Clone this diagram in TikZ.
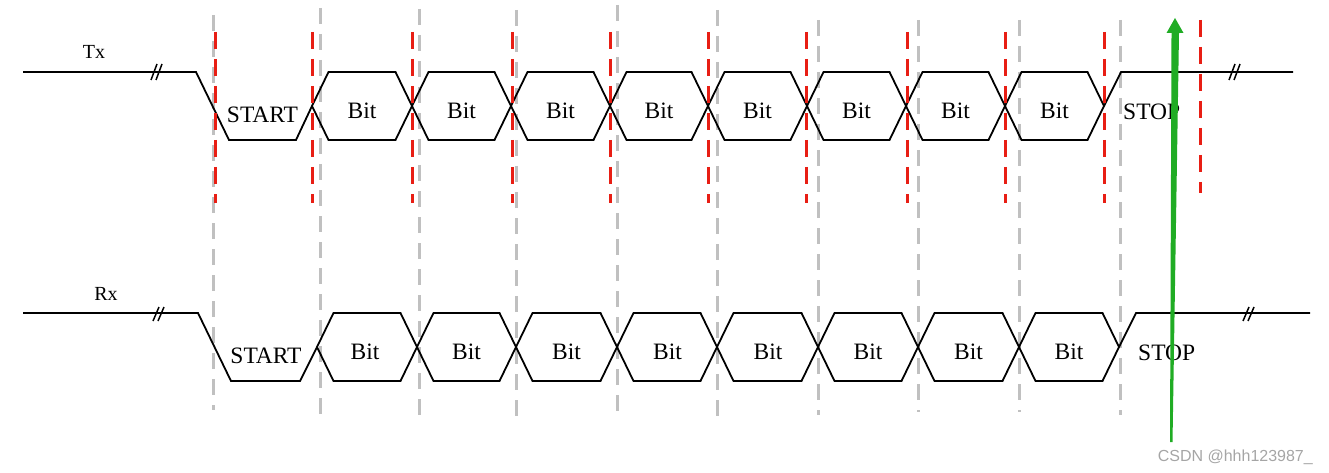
\documentclass[tikz,border=0pt]{standalone}
\usepackage{fontspec}
\setmainfont{Liberation Serif}
\newfontfamily\wmfont{Liberation Sans}
\definecolor{sigred}{RGB}{232,30,20}
\definecolor{guidegray}{RGB}{192,192,192}
\definecolor{arrowgreen}{RGB}{32,172,36}
\definecolor{wmgray}{RGB}{165,165,165}
\begin{document}
\begin{tikzpicture}[x=1pt,y=-1pt,
  wave/.style={line width=1.8pt, black, line join=miter},
  brk/.style={line width=1.5pt, black},
  redguide/.style={sigred, line width=3pt, dash pattern=on 17pt off 10pt},
  grayguide/.style={guidegray, line width=3pt, dash pattern=on 16pt off 10pt},
  bitlabel/.style={font=\fontsize{23.5}{27}\selectfont, inner sep=0pt},
  siglabel/.style={font=\fontsize{20}{23}\selectfont, inner sep=0pt},
]
\useasboundingbox (0,0) rectangle (1329,473);

% gray guides
\foreach \x/\a/\b in {213/15/410, 320/8/420, 419/9/420, 516/10/420, 617/5/413, 717/10/418, 818/20/415, 918/20/412, 1019/20/412, 1120/20/415}
  \draw[grayguide] (\x,\a) -- (\x,\b);

% Tx waveform
\draw[wave] (23,72) -- (196,72) -- (229,140) -- (296,140) -- (312,106);
\foreach \a/\b in {312/412, 412/511, 511/610, 610/708, 708/807, 807/906, 906/1005, 1005/1104}
  \draw[wave] (\a,106) -- (\a+16.5,72) -- (\b-16.5,72) -- (\b,106) -- (\b-16.5,140) -- (\a+16.5,140) -- cycle;
\draw[wave] (1104,106) -- (1121,72) -- (1293,72);
\draw[brk] (151,80) -- (157,64) (156,80) -- (162,64);
\draw[brk] (1229,80) -- (1235,64) (1234,80) -- (1240,64);

% Rx waveform
\draw[wave] (23,313) -- (198,313) -- (231,381) -- (300,381) -- (317,347);
\foreach \a/\b in {317/417, 417/516, 516/617, 617/717, 717/818, 818/918, 918/1019, 1019/1119}
  \draw[wave] (\a,347) -- (\a+16.5,313) -- (\b-16.5,313) -- (\b,347) -- (\b-16.5,381) -- (\a+16.5,381) -- cycle;
\draw[wave] (1119,347) -- (1136,313) -- (1310,313);
\draw[brk] (153,321) -- (159,307) (158,321) -- (164,307);
\draw[brk] (1243,321) -- (1249,307) (1248,321) -- (1254,307);

% red guides
\foreach \x in {215,312,412,512,610,708,806,907,1005,1104}
  \draw[redguide] (\x,32) -- (\x,203);
\draw[redguide] (1200,20) -- (1200,193);

% labels
\node[siglabel] (tx) at (94,52) {Tx};
\node[siglabel] (rx) at (106,294) {Rx};
\node[bitlabel] (txstart) at (262.5,115) {START};
\foreach \c [count=\i] in {362,461.5,560.5,659,757.5,856.5,955.5,1054.5}
  \node[bitlabel] (txbit\i) at (\c,111) {Bit};
\node[bitlabel, anchor=west] (txstop) at (1123,112) {STOP};
\node[bitlabel] (rxstart) at (266,356) {START};
\foreach \c [count=\i] in {365,466.5,566.5,667.5,768,868,968.5,1069}
  \node[bitlabel] (rxbit\i) at (\c,352) {Bit};
\node[bitlabel, anchor=west] (rxstop) at (1138,353) {STOP};

% green arrow
\fill[arrowgreen] (1170,442) -- (1171.5,33) -- (1166.5,33) -- (1175,18) -- (1183.5,33) -- (1179,33) -- (1172.5,442) -- cycle;

% watermark
\node[font=\wmfont\fontsize{16}{19}\selectfont, text=wmgray, anchor=east, inner sep=0pt] (wm) at (1313,457) {CSDN @hhh123987\_};
\end{tikzpicture}
\end{document}
